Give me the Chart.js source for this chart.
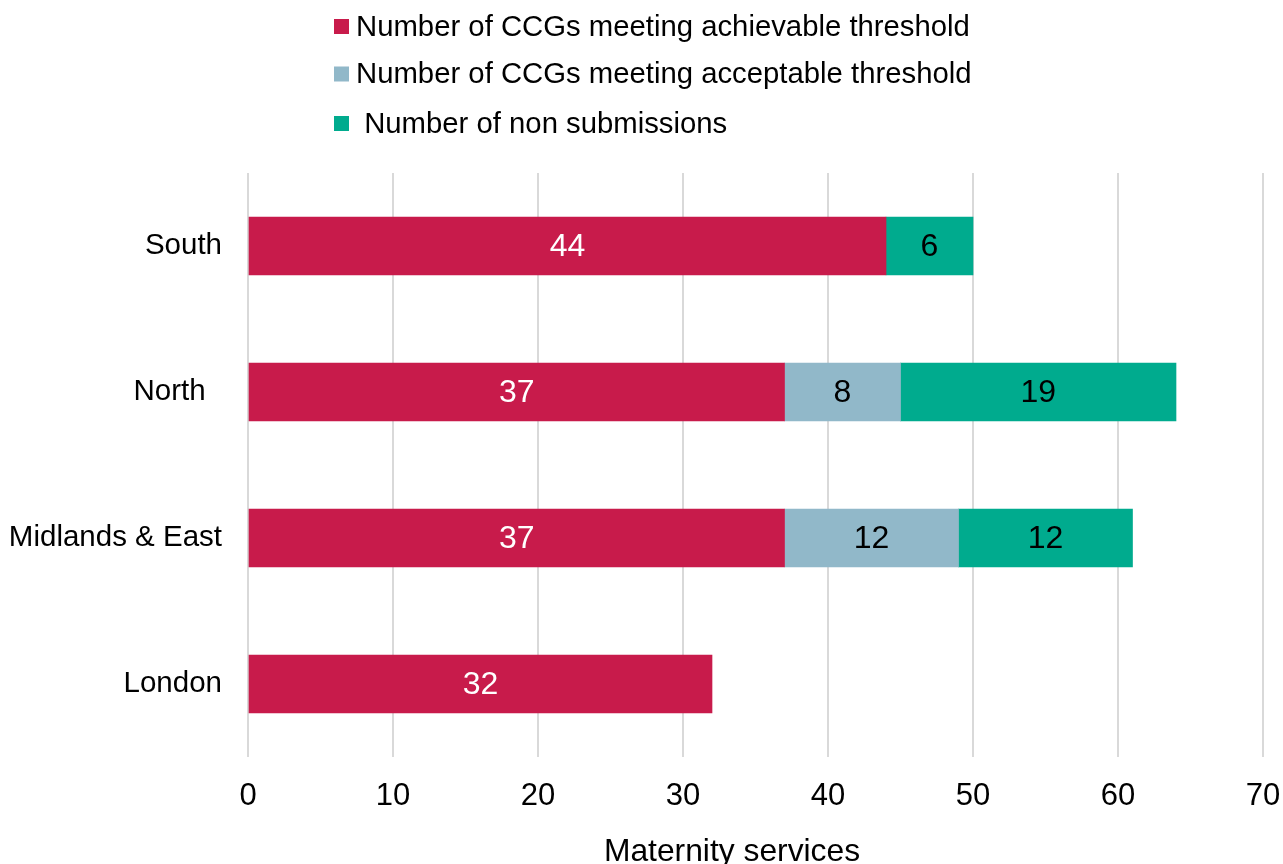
<!DOCTYPE html>
<html>
<head>
<meta charset="utf-8">
<title>Maternity services by region</title>
<script src="https://cdn.jsdelivr.net/npm/chart.js@4/dist/chart.umd.min.js"></script>
<style>
  html, body { margin: 0; padding: 0; background: #fff; }
  #wrap { position: relative; width: 1283px; height: 864px; }
</style>
</head>
<body>
<div id="wrap"><canvas id="chartRegions"></canvas></div>
<script>
/* global Chart */

// data
const regions = ['South', 'North  ', 'Midlands & East', 'London'];
const achievable = [44, 37, 37, 32];
const acceptable = [null, 8, 12, null];
const nonSubmissions = [6, 19, 12, null];
const seriesNames = [
  'Number of CCGs meeting achievable threshold',
  'Number of CCGs meeting acceptable threshold',
  ' Number of non submissions'
];
const xTicks = [0, 10, 20, 30, 40, 50, 60, 70];
const axisTitle = 'Maternity services';

const COLORS = ['#c81b4b', '#91b8c9', '#00ab8e'];
const LABEL_COLORS = ['#ffffff', '#000000', '#000000'];
const FONT = 'Liberation Sans, Arial, sans-serif';

// legend stacked in one left-aligned column, drawn on the canvas
const columnLegend = {
  id: 'columnLegend',
  afterDraw(chart) {
    const ctx = chart.ctx;
    const rowsY = [26.5, 74, 123.5];
    ctx.save();
    ctx.font = `29.3px ${FONT}`;
    ctx.textBaseline = 'middle';
    ctx.textAlign = 'left';
    chart.data.datasets.forEach((ds, i) => {
      ctx.fillStyle = ds.backgroundColor;
      ctx.fillRect(334, rowsY[i] - 7.5, 15, 15);
      ctx.fillStyle = '#000';
      ctx.fillText(ds.label, 356, rowsY[i] + 1);
    });
    // axis title sits a little left of the plot centre in the original
    ctx.font = `31.8px ${FONT}`;
    ctx.textAlign = 'center';
    ctx.textBaseline = 'alphabetic';
    ctx.fillText(axisTitle, 732, 861);
    ctx.restore();
  }
};

// value labels in the middle of each segment
const segmentLabels = {
  id: 'segmentLabels',
  afterDatasetsDraw(chart) {
    const ctx = chart.ctx;
    ctx.save();
    ctx.font = `32px ${FONT}`;
    ctx.textAlign = 'center';
    ctx.textBaseline = 'middle';
    chart.data.datasets.forEach((ds, i) => {
      const meta = chart.getDatasetMeta(i);
      meta.data.forEach((bar, j) => {
        const v = ds.data[j];
        if (v === null || v === undefined) return;
        const p = bar.getProps(['x', 'base', 'y'], true);
        ctx.fillStyle = LABEL_COLORS[i];
        ctx.fillText(String(v), (p.x + p.base) / 2, p.y + 1);
      });
    });
    ctx.restore();
  }
};

function buildChart() {
  const ctx = document.getElementById('chartRegions').getContext('2d');
  const series = [achievable, acceptable, nonSubmissions];
  return new Chart(ctx, {
    type: 'bar',
    data: {
      labels: regions,
      datasets: series.map((data, i) => ({
        label: seriesNames[i],
        data,
        backgroundColor: COLORS[i],
        borderWidth: 0,
        barThickness: 58,
        stack: 's'
      }))
    },
    options: {
      indexAxis: 'y',
      responsive: true,
      maintainAspectRatio: false,
      animation: false,
      layout: { padding: { top: 173, right: 20, bottom: 0, left: 0 } },
      plugins: {
        legend: { display: false },
        tooltip: { enabled: false }
      },
      scales: {
        x: {
          stacked: true,
          min: 0,
          max: 70,
          afterBuildTicks: (s) => { s.ticks = xTicks.map(v => ({ value: v })); },
          afterFit: (s) => { s.height = 107; s.paddingLeft = 0; s.paddingRight = 0; },
          border: { display: false },
          grid: { color: '#d9d9d9', lineWidth: 2, drawTicks: false },
          ticks: { color: '#000', padding: 21, font: { family: FONT, size: 31 } }
        },
        y: {
          stacked: true,
          afterFit: (s) => { s.width = 248; },
          border: { display: false },
          grid: { display: false, drawTicks: false },
          ticks: { color: '#000', padding: 26, font: { family: FONT, size: 29.5 } }
        }
      }
    },
    plugins: [segmentLabels, columnLegend]
  });
}

document.addEventListener('DOMContentLoaded', buildChart);
</script>
</body>
</html>
